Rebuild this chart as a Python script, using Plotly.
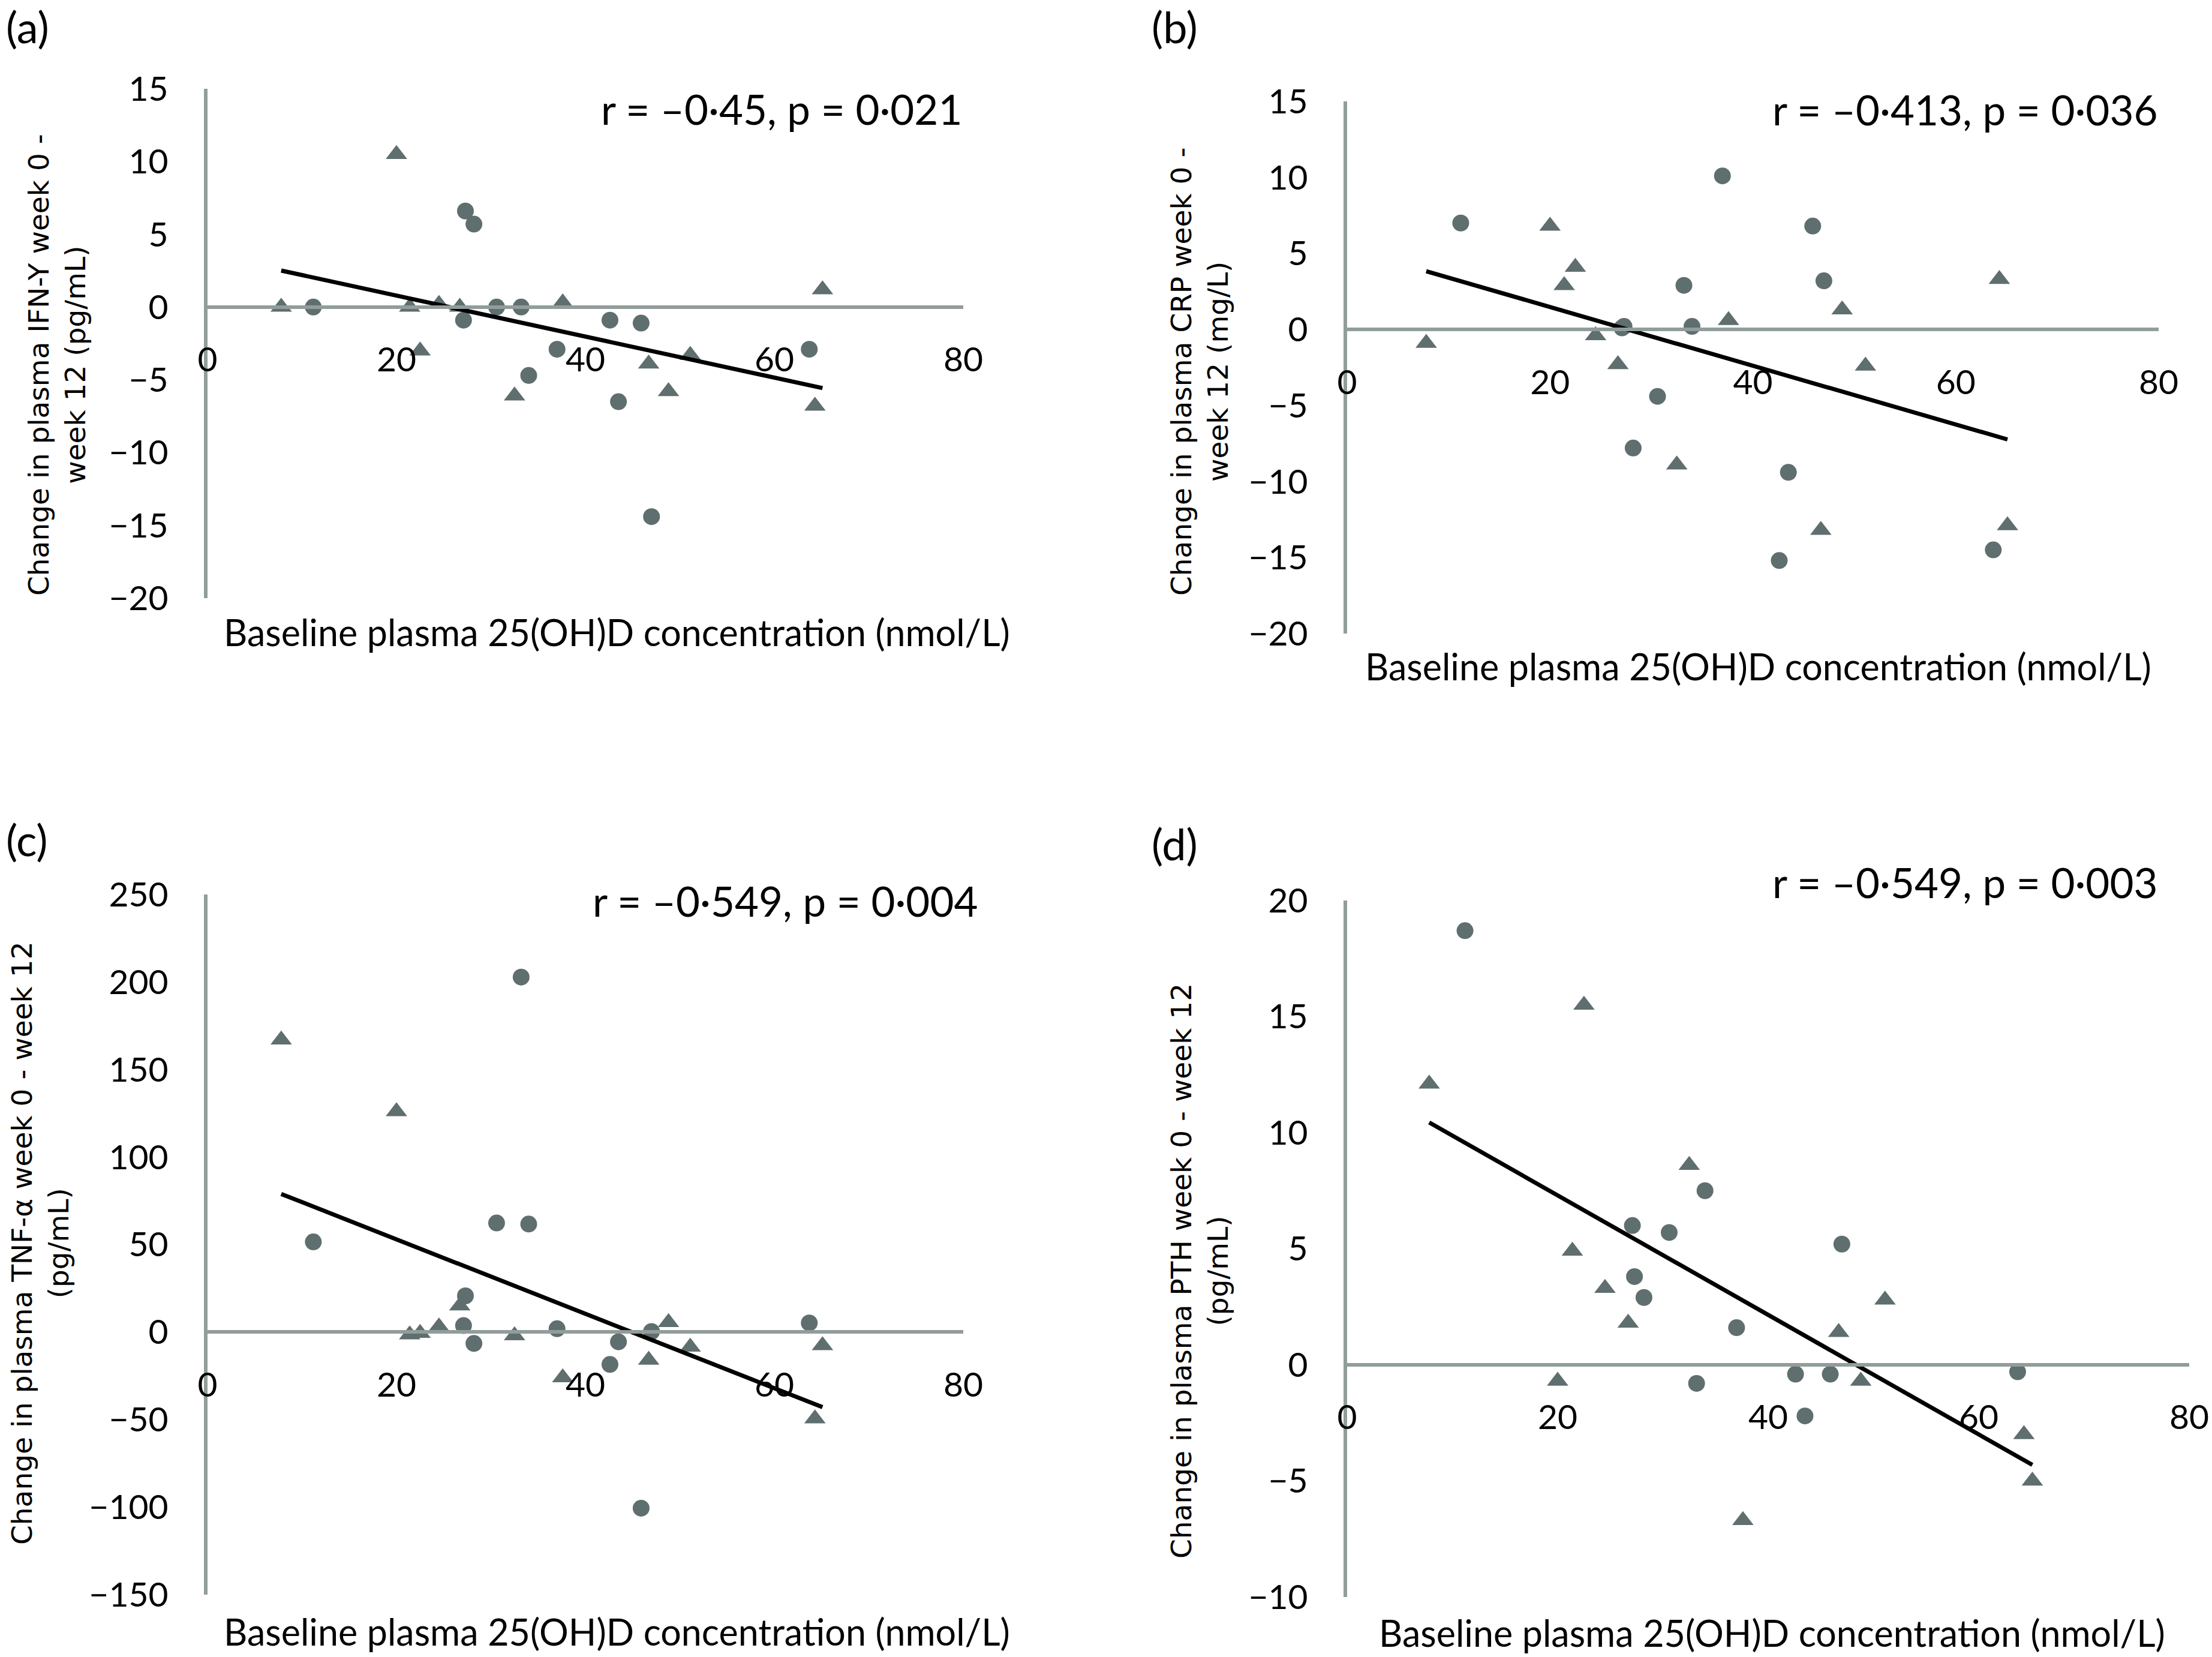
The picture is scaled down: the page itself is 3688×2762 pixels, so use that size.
import numpy as np
import plotly.graph_objects as go
from plotly.subplots import make_subplots

# Baseline plasma 25(OH)D (nmol/L) - same participants in every panel
TRI_X = [7.8, 20.0, 21.4, 22.5, 24.5, 26.7, 32.5, 37.6, 46.7, 48.8, 51.1, 64.3, 65.1]
CIR_X = [11.2, 27.1, 27.3, 28.2, 30.6, 33.2, 34.0, 37.0, 42.6, 43.5, 45.9, 47.0, 63.7]

# (a) IFN-Y change (pg/mL)
IFN_TRI = [0, 10.5, 0, -3.0, 0.2, 0, -6.1, 0.3, -3.9, -5.8, -3.3, -6.8, 1.2]
IFN_CIR = [0, -0.9, 6.6, 5.7, 0, 0, -4.7, -2.9, -0.9, -6.5, -1.1, -14.4, -2.9]

# (b) CRP change (mg/L)
CRP_TRI = [-0.9, 6.8, 2.9, 4.1, -0.4, -2.3, -8.9, 0.6, -13.2, 1.3, -2.4, 3.3, -12.9]
CRP_CIR = [7.0, 0.1, 0.2, -7.8, -4.4, 2.9, 0.2, 10.1, -15.2, -9.4, 6.8, 3.2, -14.5]

# (c) TNF-alpha change (pg/mL)
TNF_TRI = [167, 126, -1.5, -0.6, 3, 15, -2, -26, -16, 5.5, -8.5, -49.5, -7.7]
TNF_CIR = [51.5, 3.7, 20.7, -6.5, 62.3, 202.8, 61.7, 1.9, -18.5, -5.6, -100.6, 0.3, 5.2]

# (d) PTH change (pg/mL)
PTH_TRI = [12.1, -0.7, 4.9, 15.5, 3.3, 1.8, 8.6, -6.7, 1.4, -0.7, 2.8, -3.0, -5.0]
PTH_CIR = [18.7, 6.0, 3.8, 2.9, 5.7, -0.8, 7.5, 1.6, -0.4, -2.2, -0.4, 5.2, -0.3]

PANELS = [
    dict(tag='(a)', tri=IFN_TRI, cir=IFN_CIR, yrange=[-20, 15], dtick=5,
         ytitle='Change in plasma IFN-Y week 0 -<br>week 12 (pg/mL)', stat='r = \u20130\u00b745, p = 0\u00b7021'),
    dict(tag='(b)', tri=CRP_TRI, cir=CRP_CIR, yrange=[-20, 15], dtick=5,
         ytitle='Change in plasma CRP week 0 -<br>week 12 (mg/L)', stat='r = \u20130\u00b7413, p = 0\u00b7036'),
    dict(tag='(c)', tri=TNF_TRI, cir=TNF_CIR, yrange=[-150, 250], dtick=50,
         ytitle='Change in plasma TNF-\u03b1 week 0 - week 12<br>(pg/mL)', stat='r = \u20130\u00b7549, p = 0\u00b7004'),
    dict(tag='(d)', tri=PTH_TRI, cir=PTH_CIR, yrange=[-10, 20], dtick=5,
         ytitle='Change in plasma PTH week 0 - week 12<br>(pg/mL)', stat='r = \u20130\u00b7549, p = 0\u00b7003'),
]

W, H = 3688, 2762
# plot boxes in pixels: left, right, top, bottom
BOXES = [(346, 1606, 148, 997), (2246, 3599, 169, 1056),
         (346, 1606, 1491, 2658), (2246, 3650, 1501, 2662)]
YTITLE_POS = [(95, 608), (2000, 620), (67, 2072), (2000, 2119)]
XTITLE_POS = [(1028, 1054), (2931, 1110), (1028, 2719), (2954, 2721)]
STAT_POS = [(1606, 181), (3599, 183), (1632, 1501), (3599, 1470)]
TAG_POS = [(8, 44), (1918, 44), (8, 1399), (1918, 1406)]

MARKER = '#5f6e6e'
AXIS = '#919d9a'
FONT = 'Lato, Carlito, Calibri, sans-serif'

fig = make_subplots(rows=2, cols=2)

annotations = []
for i, p in enumerate(PANELS):
    row, col = i // 2 + 1, i % 2 + 1
    left, right, top, bottom = BOXES[i]
    xd = [left / W, right / W]
    yd = [1 - bottom / H, 1 - top / H]

    fig.add_trace(go.Scatter(x=TRI_X, y=p['tri'], mode='markers',
                             marker=dict(symbol='triangle-up', size=31, color=MARKER),
                             showlegend=False), row=row, col=col)
    fig.add_trace(go.Scatter(x=CIR_X, y=p['cir'], mode='markers',
                             marker=dict(symbol='circle', size=28, color=MARKER),
                             showlegend=False), row=row, col=col)

    # least-squares trend line over all participants
    xs = np.array(TRI_X + CIR_X)
    ys = np.array(p['tri'] + p['cir'])
    slope, icpt = np.polyfit(xs, ys, 1)
    lx = np.array([xs.min(), xs.max()])
    fig.add_trace(go.Scatter(x=lx, y=slope * lx + icpt, mode='lines',
                             line=dict(color='black', width=7),
                             showlegend=False), row=row, col=col)

    y0, y1 = p['yrange']
    zero_pos = yd[0] + (0 - y0) / (y1 - y0) * (yd[1] - yd[0])
    sfx = '' if i == 0 else str(i + 1)
    fig.layout['xaxis' + sfx].update(
        domain=xd, range=[0, 80], tickvals=[0, 20, 40, 60, 80],
        anchor='free', position=zero_pos, automargin=False,
        showline=True, linecolor=AXIS, linewidth=6, showgrid=False, zeroline=False,
        ticks='', ticklabelstandoff=36, tickfont=dict(family=FONT, size=57, color='black'))
    fig.layout['yaxis' + sfx].update(
        domain=yd, range=p['yrange'], dtick=p['dtick'], automargin=False,
        showline=True, linecolor=AXIS, linewidth=6, showgrid=False, zeroline=False,
        ticks='', ticklabelstandoff=48, tickfont=dict(family=FONT, size=57, color='black'))

    annotations.append(dict(text=p['ytitle'], textangle=-90, xref='paper', yref='paper',
                            x=YTITLE_POS[i][0] / W, y=1 - YTITLE_POS[i][1] / H,
                            xanchor='center', yanchor='middle', showarrow=False,
                            font=dict(family='DejaVu Sans', size=47, color='black')))
    annotations.append(dict(text='Baseline plasma 25(OH)D concentration (nmol/L)',
                            xref='paper', yref='paper',
                            x=XTITLE_POS[i][0] / W, y=1 - XTITLE_POS[i][1] / H,
                            xanchor='center', yanchor='middle', showarrow=False,
                            font=dict(family=FONT, size=61, color='black')))
    annotations.append(dict(text=p['stat'], xref='paper', yref='paper',
                            x=STAT_POS[i][0] / W, y=1 - STAT_POS[i][1] / H,
                            xanchor='right', yanchor='middle', showarrow=False,
                            font=dict(family=FONT, size=69, color='black')))
    annotations.append(dict(text=p['tag'], xref='paper', yref='paper',
                            x=TAG_POS[i][0] / W, y=1 - TAG_POS[i][1] / H,
                            xanchor='left', yanchor='middle', showarrow=False,
                            font=dict(family=FONT, size=72, color='black')))

fig.update_layout(
    width=W, height=H, autosize=False,
    margin=dict(l=0, r=0, t=0, b=0, pad=0),
    plot_bgcolor='white', paper_bgcolor='white',
    annotations=annotations,
)

# drop the browser's default body margin so the figure sits at the page origin
fig.write_html("out.html", config={'displayModeBar': False},
               post_script="document.body.style.margin='0px';")
